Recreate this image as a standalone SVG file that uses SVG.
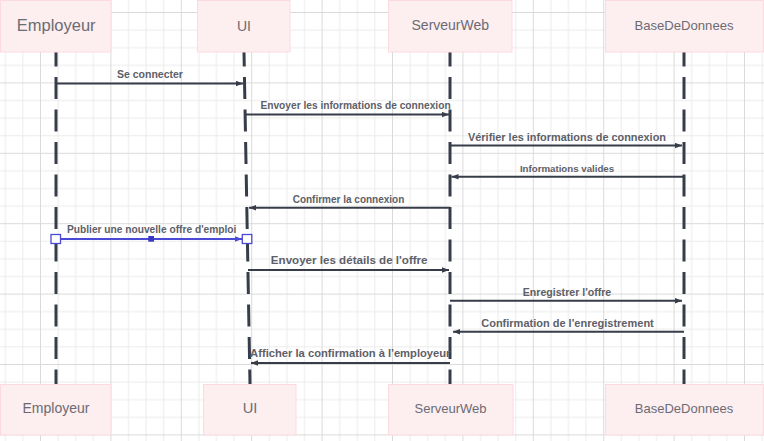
<svg xmlns="http://www.w3.org/2000/svg" width="764" height="441" viewBox="0 0 764 441">
<style>
.box{fill:#fdeeef;stroke:#fbdbe1;stroke-width:1}
.bt{font-family:"Liberation Sans",Arial,sans-serif;fill:#6b6b74;text-anchor:middle}
.life{stroke:#363c48;stroke-width:3;fill:none;stroke-dasharray:22 10.5;stroke-dashoffset:7.5}
.msg{stroke:#363c48;stroke-width:2;fill:none;marker-end:url(#ah)}
.lbl{font-family:"Liberation Sans",Arial,sans-serif;font-weight:bold;fill:#5d6068;text-anchor:middle;font-size:10px}
</style>
<defs>
<pattern id="grid" x="40" y="12" width="70.4" height="70.4" patternUnits="userSpaceOnUse">
<path d="M18.1,0V70.4M35.7,0V70.4M53.3,0V70.4M0,18.1H70.4M0,35.7H70.4M0,53.3H70.4" stroke="#ebebeb" stroke-width="1" fill="none"/>
<path d="M0.5,0V70.4M0,0.5H70.4" stroke="#dadada" stroke-width="1" fill="none"/>
</pattern>
<marker id="ah" markerUnits="userSpaceOnUse" markerWidth="8" markerHeight="6" refX="7" refY="3" orient="auto">
<path d="M0,0.3L7,3L0,5.7z" fill="#363c48"/>
</marker>
<marker id="ahb" markerUnits="userSpaceOnUse" markerWidth="8" markerHeight="6" refX="7" refY="3" orient="auto">
<path d="M0,0.3L7,3L0,5.7z" fill="#4a4ad6"/>
</marker>
</defs>
<rect width="764" height="441" fill="#ffffff"/>
<rect width="764" height="441" fill="url(#grid)"/>

<g id="lifelines">
<line class="life" x1="56" y1="52" x2="56" y2="384"/>
<line class="life" x1="244" y1="52" x2="250" y2="384"/>
<line class="life" x1="450" y1="52" x2="450" y2="384"/>
<line class="life" x1="684" y1="52" x2="684" y2="384"/>
</g>

<g id="connectors">
<line class="msg" x1="56" y1="83.5" x2="243" y2="83.5"/>
<line class="msg" x1="244" y1="114.5" x2="449" y2="114.5"/>
<line class="msg" x1="450" y1="145.5" x2="682" y2="145.5"/>
<line class="msg" x1="684" y1="176.7" x2="451.5" y2="176.7"/>
<line class="msg" x1="450" y1="207.7" x2="249" y2="207.7"/>
<line x1="56" y1="239" x2="242" y2="239" stroke="#4a4ad6" stroke-width="2" marker-end="url(#ahb)"/>
<line class="msg" x1="248" y1="270" x2="449" y2="270"/>
<line class="msg" x1="450" y1="300.7" x2="682" y2="300.7"/>
<line class="msg" x1="684" y1="331.7" x2="453" y2="331.7"/>
<line class="msg" x1="450" y1="363" x2="251" y2="363"/>
<rect x="51" y="234.5" width="9.5" height="9" fill="#ffffff" stroke="#4a4ad6" stroke-width="1.3"/>
<rect x="148.3" y="236" width="5.7" height="5.7" fill="#3838c4"/>
<rect x="242.3" y="234.5" width="9.5" height="9" fill="#ffffff" stroke="#4a4ad6" stroke-width="1.3"/>
<text class="lbl" x="150" y="78.3" style="font-size:10.5px">Se connecter</text>
<text class="lbl" x="355.5" y="108.5" style="font-size:10.2px">Envoyer les informations de connexion</text>
<text class="lbl" x="567" y="140.5" style="font-size:10.9px">Vérifier les informations de connexion</text>
<text class="lbl" x="567" y="171.7" style="font-size:9.7px">Informations valides</text>
<text class="lbl" x="348.5" y="202.7">Confirmer la connexion</text>
<text class="lbl" x="151.7" y="233.3" style="font-size:10.2px">Publier une nouvelle offre d'emploi</text>
<text class="lbl" x="349.2" y="264.2" style="font-size:11.6px">Envoyer les détails de l'offre</text>
<text class="lbl" x="567" y="295.7" style="font-size:10.6px">Enregistrer l'offre</text>
<text class="lbl" x="567.5" y="326.7" style="font-size:11px">Confirmation de l'enregistrement</text>
<text class="lbl" x="350.3" y="357.3" style="font-size:11.2px">Afficher la confirmation à l'employeur</text>
</g>

<g id="employeur-top"><rect class="box" x="0.5" y="0.5" width="110.5" height="51.5"/><text class="bt" x="56.2" y="31" font-size="16.5">Employeur</text></g>
<g id="ui-top"><rect class="box" x="197.5" y="0.5" width="92.5" height="51.5"/><text class="bt" x="244" y="30.7" font-size="14">UI</text></g>
<g id="serveurweb-top"><rect class="box" x="388.5" y="0.5" width="123.5" height="51.5"/><text class="bt" x="450.3" y="30" font-size="14">ServeurWeb</text></g>
<g id="basededonnees-top"><rect class="box" x="605.5" y="0.5" width="158" height="51.5"/><text class="bt" x="684" y="30" font-size="13.1">BaseDeDonnees</text></g>

<g id="employeur-bottom"><rect class="box" x="0.5" y="384.5" width="110.5" height="50.5"/><text class="bt" x="56" y="413.3" font-size="14">Employeur</text></g>
<g id="ui-bottom"><rect class="box" x="203.5" y="384.5" width="92.5" height="50.5"/><text class="bt" x="250" y="413" font-size="14.7">UI</text></g>
<g id="serveurweb-bottom"><rect class="box" x="388.5" y="384.5" width="124.5" height="50.5"/><text class="bt" x="450.5" y="412.7" font-size="13">ServeurWeb</text></g>
<g id="basededonnees-bottom"><rect class="box" x="605.5" y="384.5" width="158" height="50.5"/><text class="bt" x="684" y="412.7" font-size="13">BaseDeDonnees</text></g>
</svg>
